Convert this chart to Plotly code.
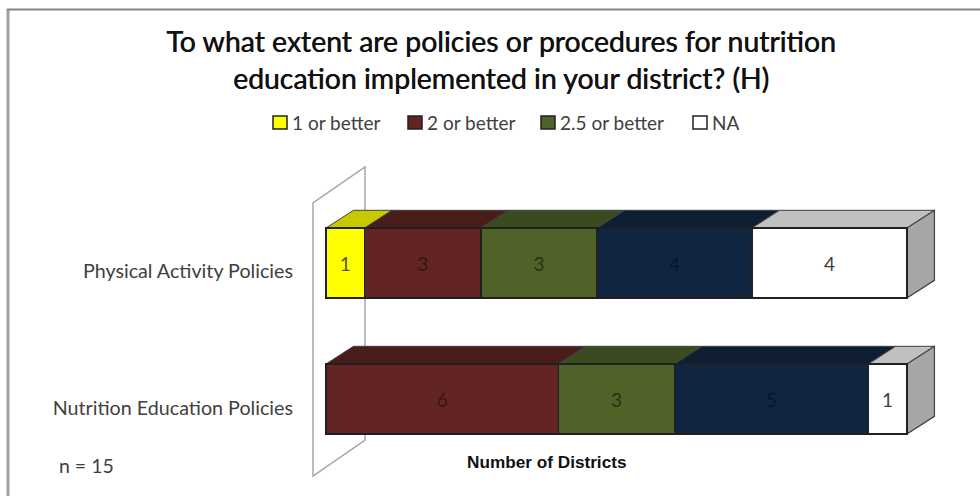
import plotly.graph_objects as go

categories = ["Nutrition Education Policies", "Physical Activity Policies"]
series_names = ["1 or better", "2 or better", "2.5 or better", "3 or better", "NA"]
values_1 = [0, 1]
values_2 = [6, 3]
values_25 = [3, 3]
values_3 = [5, 4]
values_na = [1, 4]
all_values = [values_1, values_2, values_25, values_3, values_na]
front_colors = ["#FFFF00", "#632523", "#4F6228", "#10253F", "#FFFFFF"]
top_colors = ["#C8C800", "#4A1C1A", "#3C4A20", "#0E1F33", "#C0C0C0"]
text_colors = ["#555522", "#3A1512", "#26331A", "#0A1626", "#404040"]
show_legend = [True, True, True, False, True]
legend_px = [273, 408, 541, None, 693]

W, H = 980, 496
L, R, T, B = 300, 960, 160, 484
PX_PER_X = 38.73
PX_PER_Y = 136.0
Y0_PX = 399.0
X0_PX = 326.0
BAR_PX = 70.0

x_range = [(L - X0_PX) / PX_PER_X, (R - X0_PX) / PX_PER_X]
y_range = [(Y0_PX - B) / PX_PER_Y, (Y0_PX - T) / PX_PER_Y]
DX = 27.5 / PX_PER_X
DY = 17.7 / PX_PER_Y
HALF = BAR_PX / PX_PER_Y / 2
EDGE = "#202020"


def px(x):
    return (x - L) / (R - L)


def py(y):
    return (B - y) / (B - T)


fig = go.Figure()
for name, vals, col, tc in zip(series_names, all_values, front_colors, text_colors):
    fig.add_trace(go.Bar(
        y=[0, 1], x=vals, name=name, orientation="h", showlegend=False,
        marker=dict(color=col, line=dict(color=EDGE, width=1.3)),
        text=[v if v else "" for v in vals], textposition="inside",
        insidetextanchor="middle", textangle=0,
        textfont=dict(family="Lato", size=19, color=tc),
        hoverinfo="skip",
    ))

shapes = []
# side wall of the 3D chart, behind the bars
wx0 = -13 / PX_PER_X
wx1 = 39 / PX_PER_X
wall_y_low = (Y0_PX - 476) / PX_PER_Y
wall_y_high = (Y0_PX - 203) / PX_PER_Y
wdy = 36 / PX_PER_Y
shapes.append(dict(
    type="path", xref="x", yref="y", layer="below",
    path=f"M{wx0},{wall_y_low} L{wx0},{wall_y_high} L{wx1},{wall_y_high + wdy} L{wx1},{wall_y_low + wdy} Z",
    line=dict(color="#A6A6A6", width=1.5), fillcolor="rgba(255,255,255,0)",
))

for row in range(len(categories)):
    cum = 0
    for vals, tcol in zip(all_values, top_colors):
        v = vals[row]
        if v:
            yt = row + HALF
            shapes.append(dict(
                type="path", xref="x", yref="y", layer="below",
                path=f"M{cum},{yt} L{cum + DX},{yt + DY} L{cum + v + DX},{yt + DY} L{cum + v},{yt} Z",
                line=dict(color="#404040", width=1), fillcolor=tcol,
            ))
        cum += v
    yb = row - HALF
    yt = row + HALF
    shapes.append(dict(
        type="path", xref="x", yref="y", layer="below",
        path=f"M{cum},{yb} L{cum + DX},{yb + DY} L{cum + DX},{yt + DY} L{cum},{yt} Z",
        line=dict(color="#404040", width=1.2), fillcolor="#A6A6A6",
    ))

# outer frame
shapes.append(dict(type="line", xref="paper", yref="paper", x0=px(8), x1=px(8), y0=py(496), y1=py(9),
                   line=dict(color="#A0A0A0", width=3)))
shapes.append(dict(type="line", xref="paper", yref="paper", x0=px(7), x1=px(980), y0=py(9.5), y1=py(9.5),
                   line=dict(color="#858585", width=2)))

annotations = [
    dict(text="<b>Number of Districts</b>", xref="paper", yref="paper", x=px(547), xanchor="center",
         y=py(462), yanchor="middle", showarrow=False,
         font=dict(family="Liberation Sans", size=17.2, color="#111111")),
    dict(text="n = 15", xref="paper", yref="paper", x=px(86), xanchor="center", y=py(465), yanchor="middle",
         showarrow=False, font=dict(family="Lato", size=19.5, color="#404040")),
]

# legend row
for name, col, sl, lx in zip(series_names, front_colors, show_legend, legend_px):
    if not sl:
        continue
    shapes.append(dict(type="rect", xref="paper", yref="paper", x0=px(lx), x1=px(lx + 14), y0=py(129), y1=py(116),
                       fillcolor=col, line=dict(color="#202020", width=1.5)))
    annotations.append(dict(text=name, xref="paper", yref="paper", x=px(lx + 17), xanchor="left", y=py(122.5),
                            yanchor="middle", showarrow=False,
                            font=dict(family="Lato", size=19, color="#404040")))

fig.update_layout(
    width=W, height=H, autosize=False,
    margin=dict(l=L, r=W - R, t=T, b=H - B, pad=0),
    barmode="stack", bargap=1 - BAR_PX / PX_PER_Y,
    paper_bgcolor="white", plot_bgcolor="rgba(0,0,0,0)",
    font=dict(family="Lato", color="#404040"),
    showlegend=False,
    title=dict(
        text="To what extent are policies or procedures for nutrition<br>education implemented in your district? (H)",
        x=501 / W, xanchor="center", y=1 - 52 / H, yanchor="middle",
        font=dict(family="Lato", size=28.4, color="#111111", shadow="0.5px 0 0 #111111"),
    ),
    xaxis=dict(range=x_range, visible=False, fixedrange=True),
    yaxis=dict(range=y_range, type="linear", tickvals=[-9 / PX_PER_Y, 1 - 8 / PX_PER_Y], ticktext=categories,
               showline=False, showgrid=False, zeroline=False, ticks="", fixedrange=True,
               tickfont=dict(family="Lato", size=19.7, color="#404040"), ticklabelstandoff=6),
    shapes=shapes,
    annotations=annotations,
)
fig.write_html("out.html", config={"displayModeBar": False},
               post_script="document.body.style.margin='0';document.documentElement.style.overflow='hidden';")
